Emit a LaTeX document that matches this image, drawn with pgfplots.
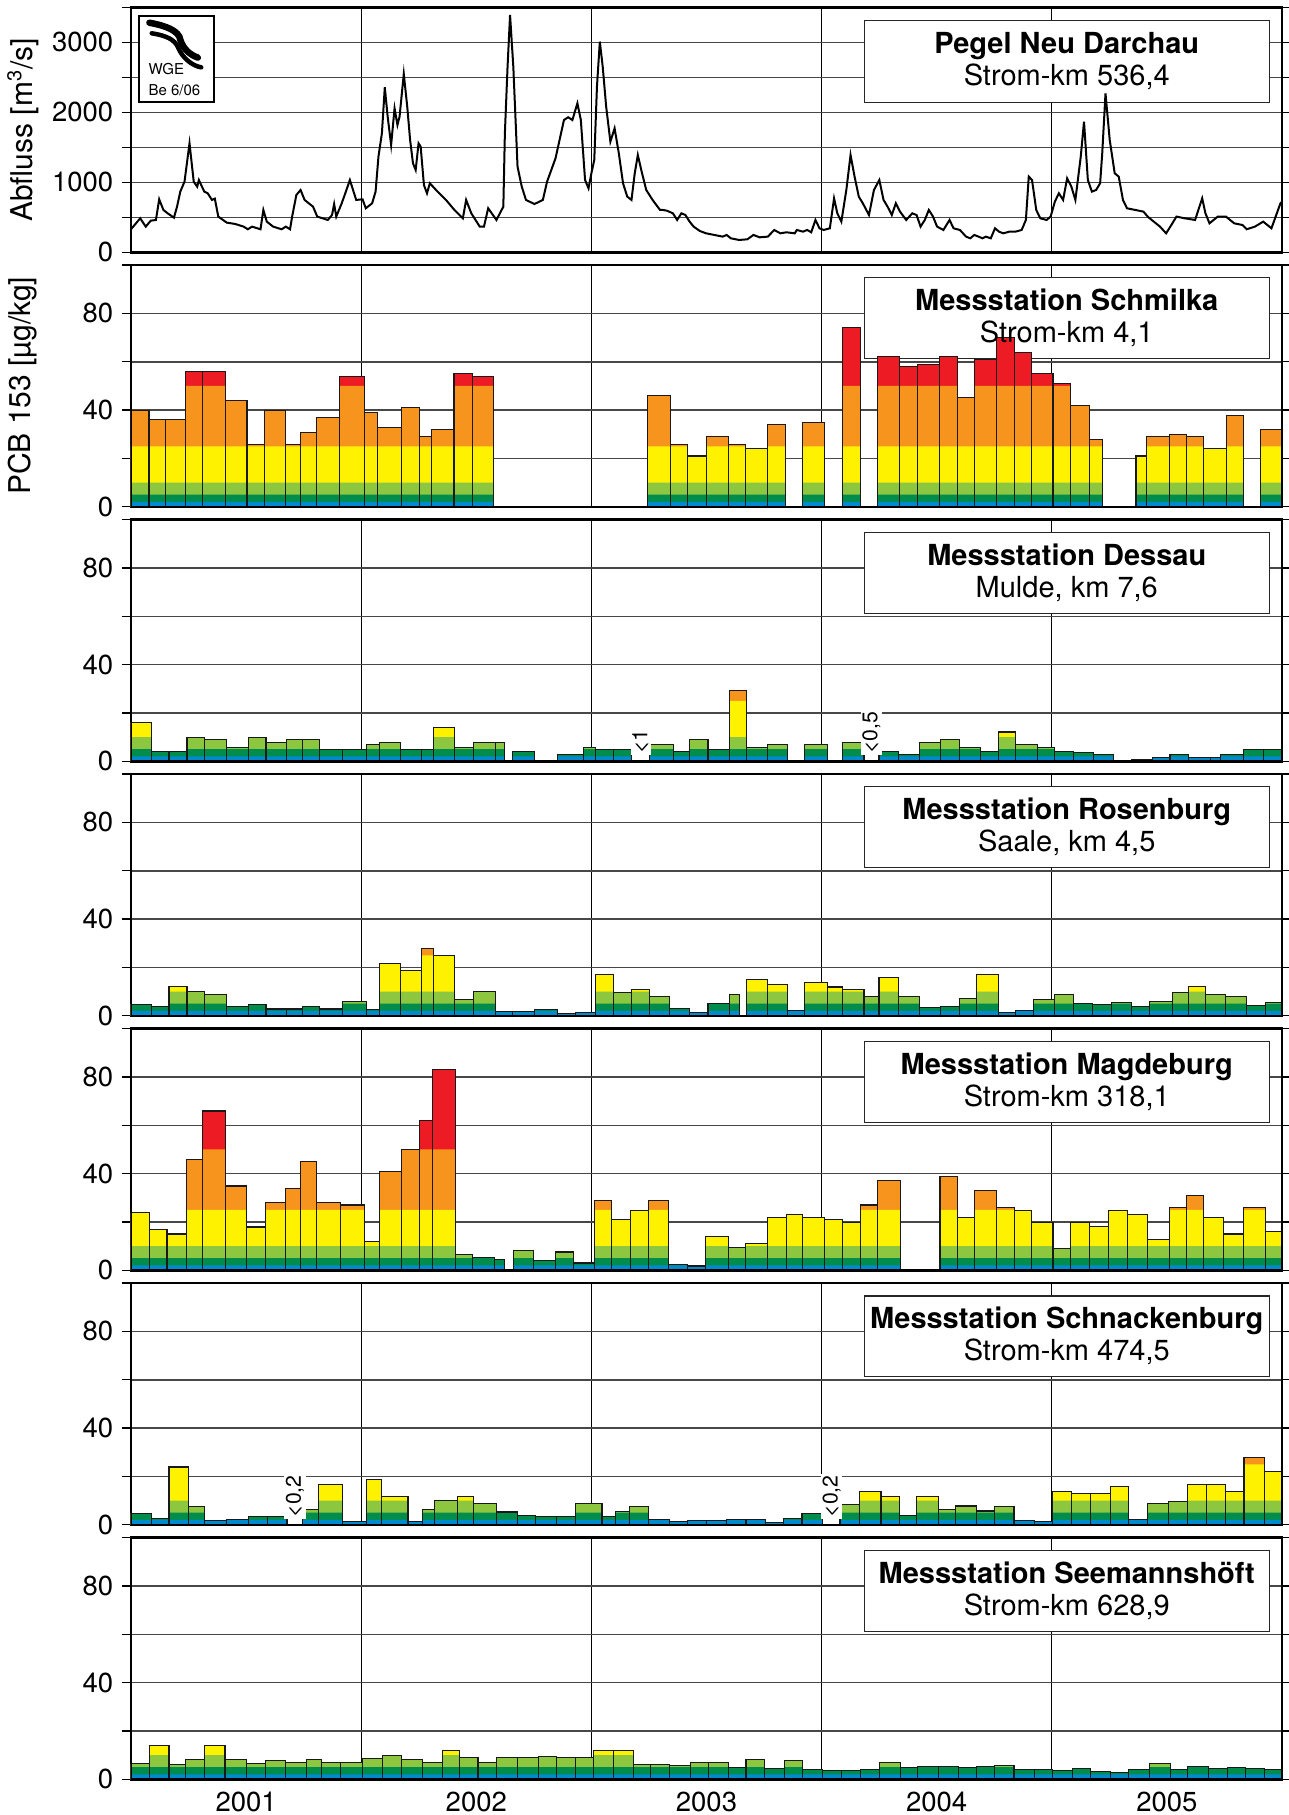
\documentclass[border=0pt]{standalone}
\usepackage{fontspec}
\setmainfont{TeX Gyre Heros}
\usepackage{pgfplots}
\usepackage{pgfplotstable}
\pgfplotsset{compat=1.18}
\definecolor{cblue}{RGB}{0,138,206}
\definecolor{cdkgreen}{RGB}{0,140,75}
\definecolor{cltgreen}{RGB}{141,198,63}
\definecolor{cyellow}{RGB}{255,242,0}
\definecolor{corange}{RGB}{247,148,29}
\definecolor{cred}{RGB}{237,28,36}

% discharge Neu Darchau, x in months since 1 Jan 2001
\pgfplotstableread{
m q
0.00 329
0.48 486
0.77 367
1.03 452
1.30 462
1.47 757
1.69 605
1.91 557
2.24 495
2.40 652
2.57 867
2.79 1010
3.05 1557
3.27 1010
3.45 938
3.54 1033
3.82 867
4.00 843
4.22 748
4.37 767
4.55 510
4.99 424
5.43 405
5.87 367
6.09 329
6.31 367
6.75 329
6.90 605
7.08 438
7.41 367
7.85 329
8.07 367
8.29 329
8.40 510
8.62 819
8.84 890
9.05 748
9.49 652
9.71 510
10.26 462
10.48 533
10.59 690
10.70 510
10.97 690
11.14 819
11.41 1033
11.74 748
12.07 757
12.24 629
12.57 700
12.75 867
12.90 1367
13.08 1700
13.23 2357
13.38 1938
13.56 1533
13.74 2057
13.89 1819
14.00 1938
14.22 2548
14.40 2081
14.55 1605
14.70 1271
14.84 1176
14.99 1557
15.10 1510
15.27 962
15.43 843
15.58 986
15.98 867
16.42 748
16.86 605
17.30 486
17.47 748
17.74 557
18.18 367
18.40 367
18.62 629
19.05 462
19.41 652
19.49 1700
19.63 2652
19.76 3390
19.93 2652
20.15 1224
20.37 938
20.59 748
21.03 690
21.47 748
21.69 1010
21.91 1176
22.13 1343
22.57 1890
22.79 1929
23.01 1890
23.27 2129
23.45 1890
23.67 1033
23.85 914
24.00 1129
24.15 1319
24.29 2367
24.44 3010
24.59 2652
24.77 2081
24.99 1581
25.21 1771
25.43 1414
25.65 986
25.87 795
26.09 748
26.26 1129
26.42 1390
26.64 1129
26.86 890
27.19 748
27.58 605
27.72 605
27.93 595
28.25 557
28.47 462
28.69 557
28.90 533
29.12 438
29.33 367
29.65 305
29.98 271
30.41 248
30.84 224
31.05 248
31.27 200
31.70 176
32.13 186
32.45 248
32.77 214
33.20 224
33.53 319
33.85 271
34.17 286
34.60 271
34.71 319
35.03 295
35.25 319
35.46 286
35.68 462
35.89 343
36.11 319
36.43 343
36.65 771
36.82 557
37.03 438
37.29 890
37.51 1390
37.72 1081
37.94 795
38.15 700
38.47 533
38.73 890
39.01 1033
39.23 748
39.44 652
39.66 533
39.87 700
40.09 581
40.41 462
40.73 557
40.95 533
41.16 367
41.38 462
41.59 605
41.81 510
42.02 367
42.35 319
42.67 462
42.88 343
43.21 319
43.53 224
43.75 200
43.96 248
44.18 224
44.39 200
44.56 224
44.82 200
45.04 343
45.25 295
45.47 271
45.79 295
46.11 295
46.43 319
46.65 462
46.80 1081
46.97 1033
47.19 605
47.40 486
47.73 462
47.94 510
48.16 724
48.37 843
48.59 748
48.80 1057
49.02 938
49.23 748
49.51 1367
49.68 1867
49.88 1033
50.09 867
50.31 890
50.52 986
50.63 1414
50.80 2271
51.02 1605
51.28 1129
51.49 1081
51.71 748
51.92 629
52.35 605
52.78 581
53.00 510
53.21 462
53.64 367
53.96 271
54.18 367
54.50 510
54.93 486
55.47 462
55.84 771
56.01 557
56.22 414
56.65 510
57.08 510
57.51 414
57.94 390
58.16 329
58.59 367
59.02 438
59.45 343
59.67 510
59.92 700
60.00 720
}\tabQ

% PCB 153: left edge of sampling period (months since 1 Jan 2001), value
\pgfplotstableread{
x v
0 40.0
0.94 36.1
1.79 36.1
2.86 55.9
3.73 55.9
4.91 44.0
6.05 25.9
6.97 40.0
8.07 25.9
8.83 30.8
9.69 37.0
10.89 53.9
12.19 38.9
12.86 32.8
14.09 41.0
15.03 29.0
15.68 32.0
16.84 55.0
17.78 53.9
18.90 0
26.94 45.9
28.12 25.9
29.00 21.0
29.99 29.0
31.13 25.9
32.05 24.1
33.18 34.1
34.10 0
35.02 35.0
36.14 0
37.08 74.2
38.02 0
38.92 62.1
40.07 58.1
41.01 59.0
42.13 62.1
43.07 45.1
43.95 61.1
45.10 70.1
46.04 64.0
46.94 55.2
48.06 51.0
48.98 41.8
49.98 28.0
50.66 0
52.39 21.0
52.93 29.0
54.15 29.9
55.01 29.0
55.91 24.1
57.10 37.9
58.00 0
58.89 32.0
60.0 0
}\tabS

\pgfplotstableread{
x v
0 16.1
1.05 3.9
1.98 3.9
2.92 9.7
3.81 8.9
4.98 5.8
6.11 9.7
7.04 7.9
8.09 8.9
8.95 8.9
9.81 4.8
11.01 4.8
12.26 6.9
12.96 7.9
14.05 4.8
15.14 4.8
15.76 13.9
16.85 5.8
17.86 7.9
18.99 7.9
19.49 0
19.88 3.9
21.05 0
22.22 2.7
23.58 5.8
24.20 4.8
25.14 4.8
26.11 0
27.04 6.8
28.29 3.9
29.10 8.9
30.08 4.8
31.21 29.3
32.10 5.8
33.19 6.9
34.24 0
35.10 6.9
36.30 0
37.08 7.9
38.21 0
38.99 3.9
40.00 2.7
41.09 7.9
42.22 8.9
43.19 5.8
44.28 3.9
45.21 12.1
46.11 6.9
47.24 5.8
48.13 3.9
49.11 3.5
50.19 2.7
51.21 0.3
52.14 0.7
53.27 1.5
54.16 2.7
55.14 1.5
56.26 1.5
56.80 2.7
57.98 4.8
59.03 4.8
60.0 0
}\tabD

\pgfplotstableread{
x v
0 4.8
1.05 4.0
1.98 12.0
2.92 9.9
3.81 8.8
4.98 4.0
6.11 4.8
7.04 2.8
8.09 2.8
8.95 4.0
9.81 2.8
11.01 5.8
12.26 2.6
12.96 21.6
14.05 18.8
15.14 27.9
15.76 25.0
16.85 6.8
17.86 9.9
18.99 1.9
19.88 1.9
21.05 2.6
22.22 0.9
23.15 1.5
24.20 17.0
25.14 9.6
26.11 11.0
27.04 8.1
28.09 3.1
29.10 1.5
30.08 5.0
31.21 8.8
31.71 0
32.10 14.9
33.19 13.0
34.24 2.3
35.10 13.8
36.30 11.9
37.08 11.0
38.21 8.1
38.99 16.0
40.00 7.9
41.09 3.3
42.22 4.0
43.19 7.2
44.09 17.0
45.21 1.5
46.11 2.3
47.04 6.8
48.13 8.8
49.11 5.0
50.12 4.8
51.09 5.4
52.14 4.0
53.11 5.8
54.28 9.6
55.14 12.0
56.03 8.8
57.04 8.1
58.13 4.4
59.14 5.5
60.0 0
}\tabR

\pgfplotstableread{
x v
0 23.9
0.98 16.9
1.88 15.0
2.90 45.9
3.73 65.9
4.93 34.9
6.02 17.9
6.99 27.9
8.07 34.0
8.85 45.1
9.69 27.9
10.93 27.0
12.19 12.0
12.97 41.0
14.11 50.1
15.05 62.0
15.72 83.1
16.93 6.7
17.80 5.4
18.94 4.4
19.49 0
19.92 8.3
21.00 4.0
22.14 7.6
23.08 3.0
24.14 29.0
25.06 20.9
26.06 24.9
26.98 29.0
28.04 2.5
29.00 1.8
29.97 14.0
31.13 9.6
32.03 11.0
33.16 22.0
34.16 23.0
35.02 22.0
36.16 20.9
37.08 19.9
38.02 27.0
38.92 37.0
40.11 0
42.17 38.9
43.07 22.0
43.95 33.0
45.10 26.0
46.04 24.9
46.94 19.9
48.06 9.1
48.98 19.9
49.98 18.0
50.94 24.9
51.96 23.0
52.97 12.9
54.15 26.0
55.01 31.0
55.91 22.0
56.97 15.0
58.00 26.0
59.14 16.0
60.0 0
}\tabM

\pgfplotstableread{
x v
0 4.8
1.05 2.5
1.98 23.9
3.00 7.5
3.81 1.8
4.98 2.1
6.11 3.3
7.12 3.3
8.13 0
8.95 6.4
9.77 16.7
11.01 1.5
12.26 18.8
13.04 11.6
14.44 1.5
15.18 6.4
15.80 9.9
17.00 11.8
17.86 8.8
19.07 5.3
20.16 3.9
21.09 3.5
22.18 3.3
23.15 8.9
24.55 3.3
25.25 5.6
25.99 7.5
26.96 2.2
28.09 1.3
28.99 1.8
30.00 1.8
31.05 2.1
32.06 2.1
33.07 0.8
34.00 2.5
34.98 4.6
36.07 0
36.96 8.3
37.98 13.8
39.10 11.7
40.08 3.9
40.93 11.7
42.10 6.3
43.00 7.8
44.09 5.7
45.02 7.4
46.03 1.7
47.08 1.3
48.05 13.8
49.03 12.9
50.00 12.9
51.05 15.7
52.02 2.2
53.00 8.8
54.09 9.7
55.06 16.8
56.07 16.8
57.04 13.8
58.02 27.9
59.07 22.1
60.0 0
}\tabK

\pgfplotstableread{
x v
0 6.4
0.97 13.9
1.98 6.1
2.84 8.3
3.81 13.9
4.90 8.3
6.03 6.7
7.00 7.8
8.05 7.1
9.14 8.3
9.92 7.1
10.93 7.1
12.06 8.6
13.11 9.7
14.12 8.3
15.18 7.1
16.26 11.9
17.12 8.9
18.09 6.8
19.07 9.2
20.16 9.2
21.25 9.6
22.18 8.9
23.15 9.0
24.09 11.9
25.14 11.9
26.19 6.1
27.08 6.1
28.09 5.8
29.18 7.1
30.12 6.8
31.13 5.0
32.06 8.3
33.04 4.3
34.05 7.9
35.02 4.2
36.07 3.8
37.04 3.8
38.05 4.0
39.03 6.8
40.12 5.0
41.01 5.4
42.10 5.4
43.15 5.0
44.09 5.4
45.02 5.7
46.03 4.2
47.08 3.9
48.05 3.5
49.07 4.3
50.00 3.3
51.05 2.9
52.02 4.2
53.11 6.7
54.20 4.2
55.06 5.4
56.15 4.4
57.16 4.9
58.09 4.6
59.10 3.9
60.0 0
}\tabH

\newcommand{\pcbbars}[1]{%
\addplot[ybar interval, fill=cred, draw=none] table[x=x,y=v]{#1};
\addplot[ybar interval, fill=corange, draw=none] table[x=x,y expr={min(\thisrow{v},50)}]{#1};
\addplot[ybar interval, fill=cyellow, draw=none] table[x=x,y expr={min(\thisrow{v},25)}]{#1};
\addplot[ybar interval, fill=cltgreen, draw=none] table[x=x,y expr={min(\thisrow{v},10)}]{#1};
\addplot[ybar interval, fill=cdkgreen, draw=none] table[x=x,y expr={min(\thisrow{v},5)}]{#1};
\addplot[ybar interval, fill=cblue, draw=none] table[x=x,y expr={min(\thisrow{v},2)}]{#1};
\addplot[ybar interval, fill=none, draw=black!90, line width=0.45pt] table[x=x,y=v]{#1};
}
\newcommand{\ttlframe}{\draw[fill=white, draw=black!85, line width=0.5pt] (rel axis cs:0.637,0.612) rectangle (rel axis cs:0.989,0.947);}
\newcommand{\ttltext}[2]{\node[align=center, font=\fontsize{11.6}{12.8}\selectfont, inner sep=0pt] at (rel axis cs:0.813,0.78) {\textbf{#1}\\#2};}
\newcommand{\axframe}{\draw[line width=1pt] (rel axis cs:0,0) rectangle (rel axis cs:1,1);}
\newcommand{\ltlabel}[2]{\node[rotate=90, anchor=west, fill=white, inner sep=0.7pt, font=\fontsize{8.5}{9}\selectfont] at (axis cs:#1,2.2) {#2};}

\pgfplotsset{
  common/.style={scale only axis, width=460.4pt, xmin=0, xmax=60, ymin=0,
    anchor=north west, axis line style={line width=1pt},
    tick align=outside, major tick length=3.6pt,
    ymajorgrids, xmajorgrids, xtick={12,24,36,48}, xticklabels={},
    xtick style={draw=none}, ytick style={line width=0.5pt, black},
    y grid style={black!72, line width=0.6pt},
    x grid style={black, line width=0.45pt},
    tick label style={font=\fontsize{11}{13}\selectfont},
    /pgf/number format/assume math mode=true, clip=true},
  bp/.style={common, height=96.7pt, ymax=100, ytick={0,20,...,100}, yticklabels={0,,40,,80,}},
}

\begin{document}
\begin{tikzpicture}
\useasboundingbox (-52.4pt,2.92pt) rectangle (463.2pt,-723.08pt);

% Panel 1: discharge
\begin{axis}[common, name=p1, at={(0pt,0pt)}, height=98pt, ymax=3500,
  ytick={0,500,...,3500}, yticklabels={0,,1000,,2000,,3000,}]
\ttlframe
\draw[fill=white, draw=black, line width=0.5pt] (rel axis cs:0.007,0.613) rectangle (rel axis cs:0.072,0.965);
\draw[line width=2.6pt, line cap=round] (rel axis cs:0.016,0.937) .. controls (rel axis cs:0.030,0.925) and (rel axis cs:0.042,0.905) .. (rel axis cs:0.043,0.865) .. controls (rel axis cs:0.046,0.825) and (rel axis cs:0.052,0.805) .. (rel axis cs:0.058,0.795);
\draw[line width=1.8pt, line cap=round] (rel axis cs:0.018,0.894) .. controls (rel axis cs:0.030,0.885) and (rel axis cs:0.038,0.870) .. (rel axis cs:0.041,0.835) .. controls (rel axis cs:0.045,0.790) and (rel axis cs:0.054,0.760) .. (rel axis cs:0.061,0.755);
\node[anchor=base west, font=\fontsize{6}{7}\selectfont, inner sep=0pt] at (rel axis cs:0.0148,0.724) {WGE};
\node[anchor=base west, font=\fontsize{6}{7}\selectfont, inner sep=0pt] at (rel axis cs:0.0148,0.642) {Be 6/06};
\addplot[black, line width=0.8pt] table[x=m,y=q]{\tabQ};
\ttltext{Pegel Neu Darchau}{Strom-km 536,4}
\axframe
\end{axis}
\node[rotate=90, font=\fontsize{12}{14}\selectfont] at ([xshift=-43.2pt]p1.west) {Abfluss [m\textsuperscript{3}/s]};

% Panel 2: Schmilka
\begin{axis}[bp, name=p2, at={(0pt,-103.1pt)}]
\ttlframe
\pcbbars{\tabS}
\ttltext{Messstation Schmilka}{Strom-km 4,1}
\axframe
\end{axis}
\node[rotate=90, font=\fontsize{12}{14}\selectfont] at ([xshift=-43.2pt]p2.west) {PCB 153 [µg/kg]};

% Panel 3: Dessau
\begin{axis}[bp, at={(0pt,-204.9pt)}]
\ttlframe
\pcbbars{\tabD}
\ltlabel{26.57}{<1}
\ltlabel{38.60}{<0,5}
\ttltext{Messstation Dessau}{Mulde, km 7,6}
\axframe
\end{axis}

% Panel 4: Rosenburg
\begin{axis}[bp, at={(0pt,-306.7pt)}]
\ttlframe
\pcbbars{\tabR}
\ttltext{Messstation Rosenburg}{Saale, km 4,5}
\axframe
\end{axis}

% Panel 5: Magdeburg
\begin{axis}[bp, at={(0pt,-408.5pt)}]
\ttlframe
\pcbbars{\tabM}
\ttltext{Messstation Magdeburg}{Strom-km 318,1}
\axframe
\end{axis}

% Panel 6: Schnackenburg
\begin{axis}[bp, at={(0pt,-510.3pt)}]
\ttlframe
\pcbbars{\tabK}
\ltlabel{8.54}{<0,2}
\ltlabel{36.52}{<0,2}
\ttltext{Messstation Schnackenburg}{Strom-km 474,5}
\axframe
\end{axis}

% Panel 7: Seemannshoeft
\begin{axis}[bp, at={(0pt,-612.1pt)},
  extra x ticks={6,18,30,42,54}, extra x tick labels={2001,2002,2003,2004,2005},
  extra x tick style={grid=none, major tick length=0pt,
    xticklabel style={font=\fontsize{11}{13}\selectfont, yshift=-1.5pt}}]
\ttlframe
\pcbbars{\tabH}
\ttltext{Messstation Seemannshöft}{Strom-km 628,9}
\axframe
\end{axis}
\end{tikzpicture}
\end{document}
